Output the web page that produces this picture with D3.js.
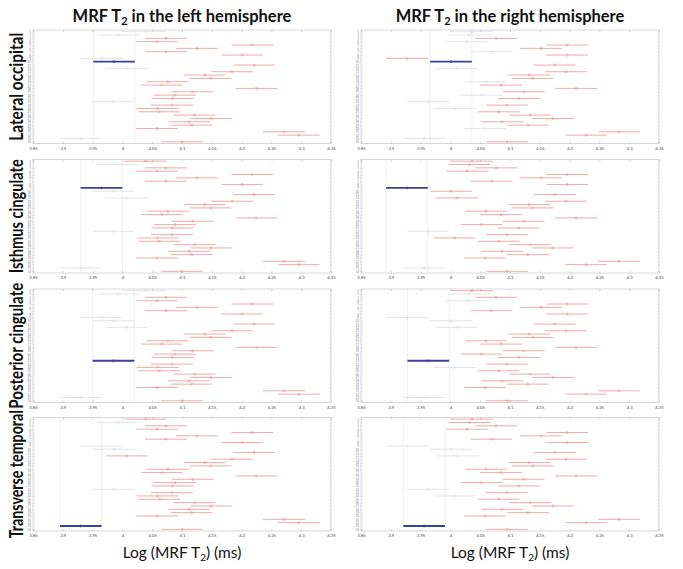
<!DOCTYPE html>
<html>
<head>
<meta charset="utf-8">
<script src="https://cdn.jsdelivr.net/npm/d3@7"></script>
<style>
  body { margin: 0; background: #fff; }
  text { font-family: Lato, "Open Sans", sans-serif; }
</style>
</head>
<body>
<svg id="chart" width="683" height="569"></svg>
<script>
// group labels on the y axis (34 regions per hemisphere)
var groupLabels = d3.range(1, 35).map(String);

// mean log(MRF T2) per group
var leftMeans = [4.039, 3.993, 4.073, 4.058, 4.218, 4.125, 4.073, 4.201, 3.965, 3.986,
  4.221, 4.007, 4.184, 4.138, 4.148, 4.076, 4.066, 4.225, 4.118, 4.088,
  4.084, 3.985, 4.083, 4.059, 4.062, 4.121, 4.149, 4.112, 4.116, 4.058,
  4.271, 4.296, 3.930, 4.100];
var rightMeans = [4.036, 4.032, 4.077, 4.028, 4.196, 4.152, 4.069, 4.196, 3.927, 4.001,
  4.175, 4.011, 4.194, 4.132, 4.138, 4.060, 4.085, 4.211, 4.123, 4.052,
  4.115, 3.963, 4.095, 4.007, 4.081, 4.134, 4.172, 4.087, 4.130, 4.058,
  4.283, 4.228, 3.956, 4.095];
// half width of the comparison interval
var halfWidth = 0.035;

// one row of panels per region, the highlighted group (1-based)
var regionNames = ["Lateral occipital", "Isthmus cingulate", "Posterior cingulate", "Transverse temporal"];
var regionLabelLength = [108, 114, 126, 128];
var leftSelected = [10, 9, 22, 33];
var rightSelected = [10, 9, 22, 33];

var xTicks = [3.85, 3.9, 3.95, 4, 4.05, 4.1, 4.15, 4.2, 4.25, 4.3, 4.35];
var xTickLabels = ["3.85", "3.9", "3.95", "4", "4.05", "4.1", "4.15", "4.2", "4.25", "4.3", "4.35"];

var svg = d3.select("#chart");

var colX = [33, 361];
var panelW = 298;
var rowY = [30, 159.5, 289, 417.5];
var panelH = 113.5;

var redColor = "#eb9597",
  greyColor = "#dcdce2",
  blueColor = "#3e3ea2";

function drawPanel(px, py, means, selected) {
  var x = d3.scaleLinear().domain([3.85, 4.35]).range([px, px + panelW]);
  var y = d3.scaleLinear().domain([0.5, means.length + 0.5]).range([py, py + panelH]);
  var g = svg.append("g");
  var s = selected - 1;
  var lo = means[s] - halfWidth, hi = means[s] + halfWidth;

  // dotted lines at the selected interval
  g.selectAll("line.ref").data([lo, hi]).enter().append("line")
    .attr("x1", function(d) { return x(d); }).attr("x2", function(d) { return x(d); })
    .attr("y1", py).attr("y2", py + panelH)
    .attr("stroke", "#cfcfcf").attr("stroke-width", 0.6)
    .attr("stroke-dasharray", "0.8,0.8");

  // frame
  g.append("rect").attr("x", px).attr("y", py).attr("width", panelW).attr("height", panelH)
    .attr("fill", "none").attr("stroke", "#c8c8c8").attr("stroke-width", 0.7);

  // x ticks, inward on bottom and top
  var xAxisB = d3.axisBottom(x).tickValues(xTicks).tickSizeInner(-2).tickSizeOuter(0)
    .tickFormat(function(d, i) { return xTickLabels[i]; }).tickPadding(3.5);
  var ax = g.append("g").attr("transform", "translate(0," + (py + panelH) + ")").call(xAxisB);
  ax.select(".domain").remove();
  ax.selectAll("line").attr("stroke", "#aaa").attr("stroke-width", 0.5);
  ax.selectAll("text").attr("font-size", 4.2).attr("fill", "#444")
    .attr("font-family", "'Liberation Sans', sans-serif");
  var axT = g.append("g").attr("transform", "translate(0," + py + ")")
    .call(d3.axisTop(x).tickValues(xTicks).tickSizeInner(-2).tickSizeOuter(0).tickFormat(""));
  axT.select(".domain").remove();
  axT.selectAll("line").attr("stroke", "#aaa").attr("stroke-width", 0.5);

  // y ticks with tiny group labels
  var rows = d3.range(1, means.length + 1);
  var ay = g.append("g").attr("transform", "translate(" + px + ",0)")
    .call(d3.axisLeft(y).tickValues(rows).tickSizeInner(-1.5).tickSizeOuter(0)
      .tickFormat(function(d) { return groupLabels[d - 1]; }).tickPadding(2));
  ay.select(".domain").remove();
  ay.selectAll("line").attr("stroke", "#aaa").attr("stroke-width", 0.4);
  ay.selectAll("text").attr("font-size", 3).attr("fill", "#888")
    .attr("font-family", "'Liberation Sans', sans-serif");
  var ayR = g.append("g").attr("transform", "translate(" + (px + panelW) + ",0)")
    .call(d3.axisRight(y).tickValues(rows).tickSizeInner(-1.5).tickSizeOuter(0).tickFormat(""));
  ayR.select(".domain").remove();
  ayR.selectAll("line").attr("stroke", "#aaa").attr("stroke-width", 0.4);

  function colorOf(d, i) {
    if (i === s) return blueColor;
    if (d - halfWidth > hi || d + halfWidth < lo) return redColor;
    return greyColor;
  }

  var bars = g.selectAll("g.bar").data(means).enter().append("g").attr("class", "bar");
  bars.append("line")
    .attr("x1", function(d) { return x(d - halfWidth); })
    .attr("x2", function(d) { return x(d + halfWidth); })
    .attr("y1", function(d, i) { return y(i + 1); })
    .attr("y2", function(d, i) { return y(i + 1); })
    .attr("stroke", colorOf)
    .attr("stroke-width", function(d, i) { return i === s ? 1.8 : 0.8; });
  bars.append("circle")
    .attr("cx", function(d) { return x(d); })
    .attr("cy", function(d, i) { return y(i + 1); })
    .attr("r", 1.1)
    .attr("fill", "none")
    .attr("stroke", colorOf)
    .attr("stroke-width", 0.6);
}

regionNames.forEach(function(name, r) {
  drawPanel(colX[0], rowY[r], leftMeans, leftSelected[r]);
  drawPanel(colX[1], rowY[r], rightMeans, rightSelected[r]);
  var cy = rowY[r] + panelH / 2;
  svg.append("text")
    .attr("transform", "translate(23," + cy + ") rotate(-90)")
    .attr("text-anchor", "middle")
    .attr("font-size", 18).attr("font-weight", "bold").attr("fill", "#111")
    .attr("textLength", regionLabelLength[r])
    .attr("lengthAdjust", "spacingAndGlyphs")
    .text(name);
});

// column titles and x labels
var titles = ["left", "right"];
titles.forEach(function(side, c) {
  var cx = colX[c] + panelW / 2;
  var t = svg.append("text").attr("x", cx).attr("y", 22).attr("text-anchor", "middle")
    .attr("font-size", 16.5).attr("font-weight", "bold").attr("fill", "#111");
  t.append("tspan").text("MRF T");
  t.append("tspan").attr("font-size", 11).attr("dy", 3).text("2");
  t.append("tspan").attr("dy", -3).text(" in the " + side + " hemisphere");

  var xl = svg.append("text").attr("x", cx).attr("y", 558).attr("text-anchor", "middle")
    .attr("font-size", 15.5).attr("fill", "#111");
  xl.append("tspan").text("Log (MRF T");
  xl.append("tspan").attr("font-size", 10).attr("dy", 3).text("2");
  xl.append("tspan").attr("dy", -3).text(") (ms)");
});
</script>
</body>
</html>
